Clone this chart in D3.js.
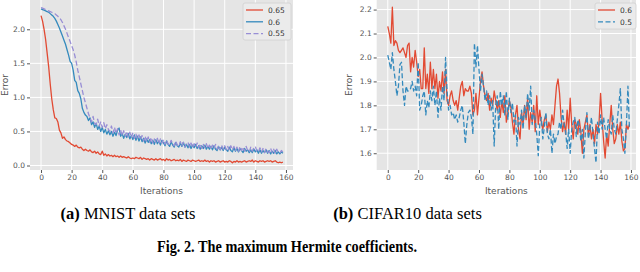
<!DOCTYPE html>
<meta charset="utf-8">
<title>Maximum Hermite coefficients</title>
<style>
html, body { margin: 0; padding: 0; background: #fff; overflow: hidden; }
.tick text { font: 7.5px "DejaVu Sans", sans-serif; fill: #555; }
.axlabel { font: 9px "DejaVu Sans", sans-serif; fill: #555; }
.leg text { font: 7.5px "DejaVu Sans", sans-serif; fill: #333; }
.cap { font-family: "Liberation Serif", "Times New Roman", serif; fill: #000; }
</style>
<svg width="640" height="272"></svg>
<script src="https://d3js.org/d3.v7.min.js"></script>
<script>

// ---- MNIST (left) ----
var mnistIter = d3.range(0, 159);
var mnist065 = [2.20,2.12,2.00,1.85,1.65,1.45,1.20,0.98,0.82,0.70,0.69,0.64,0.52,0.48,0.40,0.42,0.38,0.36,0.35,0.33,
  0.31,0.30,0.28,0.30,0.27,0.26,0.27,0.24,0.22,0.24,0.22,0.21,0.23,0.20,0.19,0.21,0.18,0.20,0.17,0.16,
  0.21,0.15,0.17,0.14,0.16,0.14,0.15,0.13,0.15,0.13,0.14,0.12,0.14,0.12,0.13,0.12,0.11,0.13,0.11,0.10,
  0.11,0.10,0.12,0.11,0.10,0.12,0.09,0.11,0.10,0.09,0.10,0.08,0.10,0.09,0.08,0.10,0.08,0.09,0.10,0.08,
  0.09,0.07,0.10,0.08,0.09,0.07,0.08,0.09,0.07,0.08,0.07,0.09,0.06,0.08,0.07,0.06,0.08,0.07,0.06,0.08,
  0.07,0.06,0.07,0.08,0.06,0.07,0.06,0.08,0.06,0.07,0.05,0.07,0.06,0.07,0.05,0.06,0.07,0.05,0.06,0.07,
  0.05,0.06,0.05,0.07,0.06,0.04,0.06,0.05,0.07,0.05,0.06,0.05,0.06,0.07,0.05,0.06,0.07,0.06,0.08,0.05,
  0.07,0.06,0.05,0.07,0.06,0.07,0.05,0.06,0.07,0.06,0.07,0.05,0.06,0.07,0.05,0.04,0.05,0.04,0.05];
var mnist06 = [2.30,2.29,2.28,2.27,2.26,2.25,2.23,2.21,2.19,2.16,2.12,2.07,2.02,1.96,1.90,1.84,1.78,1.70,1.62,1.53,
  1.50,1.40,1.25,1.22,1.10,1.06,0.98,0.84,0.78,0.74,0.72,0.66,0.70,0.60,0.64,0.56,0.62,0.53,0.58,0.50,
  0.56,0.48,0.53,0.46,0.51,0.45,0.50,0.43,0.49,0.44,0.52,0.55,0.43,0.47,0.40,0.46,0.41,0.47,0.39,0.44,
  0.38,0.45,0.37,0.43,0.36,0.42,0.35,0.40,0.33,0.39,0.34,0.38,0.32,0.37,0.31,0.38,0.32,0.36,0.30,0.37,
  0.33,0.29,0.36,0.31,0.28,0.35,0.30,0.27,0.34,0.29,0.27,0.33,0.28,0.34,0.27,0.31,0.26,0.31,0.25,0.30,
  0.26,0.31,0.25,0.29,0.24,0.29,0.25,0.30,0.24,0.28,0.24,0.28,0.23,0.29,0.24,0.22,0.28,0.23,0.27,0.22,
  0.27,0.23,0.21,0.27,0.22,0.20,0.26,0.21,0.25,0.20,0.25,0.22,0.19,0.25,0.21,0.23,0.19,0.23,0.19,0.24,
  0.20,0.23,0.18,0.23,0.18,0.22,0.19,0.23,0.18,0.22,0.17,0.21,0.18,0.22,0.17,0.20,0.17,0.20,0.18];
var mnist055 = [2.32,2.31,2.30,2.29,2.28,2.27,2.26,2.25,2.24,2.23,2.21,2.19,2.17,2.14,2.10,2.05,2.00,1.94,1.88,1.82,
  1.76,1.70,1.62,1.52,1.40,1.30,1.20,1.10,1.00,0.92,0.84,0.76,0.70,0.64,0.72,0.62,0.60,0.68,0.58,0.64,
  0.56,0.63,0.54,0.60,0.53,0.50,0.58,0.48,0.56,0.47,0.54,0.45,0.52,0.44,0.51,0.43,0.50,0.42,0.49,0.41,
  0.48,0.40,0.46,0.39,0.45,0.38,0.44,0.36,0.43,0.35,0.42,0.34,0.41,0.33,0.39,0.34,0.40,0.32,0.39,0.33,
  0.38,0.31,0.37,0.32,0.30,0.37,0.31,0.29,0.36,0.30,0.28,0.35,0.29,0.34,0.27,0.33,0.34,0.27,0.33,0.26,
  0.32,0.27,0.33,0.26,0.32,0.25,0.31,0.26,0.32,0.25,0.30,0.24,0.30,0.25,0.31,0.24,0.29,0.23,0.30,0.24,
  0.29,0.23,0.28,0.22,0.29,0.23,0.28,0.22,0.27,0.21,0.28,0.22,0.27,0.21,0.28,0.22,0.20,0.27,0.21,0.26,
  0.28,0.21,0.20,0.26,0.20,0.25,0.19,0.25,0.20,0.19,0.25,0.19,0.24,0.18,0.24,0.19,0.18,0.22,0.20];

// ---- CIFAR10 (right) ----
var cifarIter = d3.range(0, 160);
var cifar06 = [2.13,2.10,2.06,2.21,2.05,2.07,2.06,2.03,2.02,2.03,2.04,2.02,2.00,2.05,2.06,1.94,2.00,1.96,2.03,1.98,
  1.92,1.95,1.87,1.87,2.04,1.87,1.93,1.85,1.98,1.87,1.95,1.87,1.93,1.83,1.90,1.86,1.94,1.85,1.95,1.82,
  1.80,1.84,1.86,1.82,1.80,1.82,1.78,1.83,1.88,1.90,1.84,1.87,1.86,1.86,1.88,1.85,1.76,1.78,1.85,1.76,
  1.83,1.90,1.94,1.88,1.84,1.82,1.85,1.78,1.83,1.80,1.86,1.82,1.78,1.82,1.75,1.82,1.77,1.84,1.73,1.77,
  1.82,1.79,1.73,1.68,1.76,1.80,1.70,1.66,1.77,1.72,1.80,1.74,1.83,1.70,1.77,1.73,1.80,1.69,1.84,1.72,
  1.78,1.73,1.70,1.74,1.76,1.69,1.73,1.70,1.76,1.72,1.80,1.88,1.91,1.85,1.75,1.69,1.73,1.68,1.78,1.70,
  1.83,1.72,1.66,1.74,1.72,1.68,1.74,1.69,1.60,1.70,1.73,1.76,1.67,1.72,1.66,1.70,1.64,1.72,1.68,1.73,
  1.85,1.74,1.65,1.58,1.68,1.63,1.72,1.80,1.70,1.64,1.66,1.72,1.68,1.73,1.65,1.61,1.62,1.72,1.70,1.72];
var cifar05 = [2.01,1.98,1.95,2.02,1.95,1.90,1.84,1.88,1.97,1.98,1.86,1.80,1.88,1.86,1.86,1.87,1.90,1.86,1.88,1.84,
  1.98,1.78,1.80,1.84,1.86,1.76,1.82,1.79,1.86,1.82,1.88,1.80,1.86,1.75,1.83,1.78,1.88,1.82,2.00,1.86,
  1.78,1.80,1.76,1.77,1.74,1.76,1.73,1.75,1.78,1.80,1.73,1.64,1.72,1.77,1.78,1.75,1.68,2.06,1.96,2.05,
  1.95,1.86,1.93,1.88,1.82,1.86,1.80,1.84,1.78,1.82,1.63,1.80,1.84,1.70,1.86,1.80,1.84,1.76,1.86,1.74,
  1.83,1.77,1.81,1.73,1.76,1.63,1.75,1.72,1.78,1.70,1.80,1.75,1.85,1.78,1.88,1.72,1.78,1.74,1.68,1.59,
  1.72,1.75,1.66,1.71,1.77,1.68,1.66,1.70,1.60,1.68,1.64,1.67,1.68,1.73,1.70,1.78,1.72,1.69,1.62,1.70,
  1.60,1.70,1.73,1.75,1.67,1.74,1.72,1.65,1.70,1.58,1.69,1.77,1.66,1.70,1.75,1.68,1.62,1.56,1.73,1.68,
  1.76,1.70,1.75,1.70,1.66,1.74,1.70,1.68,1.76,1.70,1.68,1.74,1.80,1.87,1.70,1.66,1.60,1.72,1.88,1.70];

var xTicks = [0, 20, 40, 60, 80, 100, 120, 140, 160];
var mnistYTicks = [0.0, 0.5, 1.0, 1.5, 2.0];
var cifarYTicks = [1.6, 1.7, 1.8, 1.9, 2.0, 2.1, 2.2];

var red = "#E24A33", blue = "#348ABD", purple = "#988ED5";

var svg = d3.select("svg");

function panel(o) {
  var x = d3.scaleLinear().domain(o.xd).range([o.left, o.right]);
  var y = d3.scaleLinear().domain(o.yd).range([o.bottom, o.top]);
  var g = svg.append("g");

  g.append("rect")
    .attr("x", o.left).attr("y", o.top)
    .attr("width", o.right - o.left).attr("height", o.bottom - o.top)
    .attr("fill", "#E5E5E5");

  // grid
  g.selectAll(".vg").data(xTicks).enter().append("line")
    .attr("x1", d => x(d)).attr("x2", d => x(d))
    .attr("y1", o.top).attr("y2", o.bottom)
    .attr("stroke", "#fff").attr("stroke-width", 1);
  g.selectAll(".hg").data(o.yTicks).enter().append("line")
    .attr("x1", o.left).attr("x2", o.right)
    .attr("y1", d => y(d)).attr("y2", d => y(d))
    .attr("stroke", "#fff").attr("stroke-width", 1);

  // axes
  var ax = g.append("g").attr("transform", "translate(0," + o.bottom + ")")
    .call(d3.axisBottom(x).tickValues(xTicks).tickSize(3).tickPadding(2).tickFormat(d3.format("d")));
  var ay = g.append("g").attr("transform", "translate(" + o.left + ",0)")
    .call(d3.axisLeft(y).tickValues(o.yTicks).tickSize(3).tickPadding(2).tickFormat(d3.format(".1f")));
  [ax, ay].forEach(function(a) {
    a.select(".domain").remove();
    a.selectAll(".tick line").attr("stroke", "#555");
  });

  g.append("text").attr("class", "axlabel")
    .attr("x", (o.left + o.right) / 2).attr("y", 194)
    .attr("text-anchor", "middle").text("Iterations");
  g.append("text").attr("class", "axlabel")
    .attr("transform", "translate(" + o.ylabX + "," + ((o.top + o.bottom) / 2) + ") rotate(-90)")
    .attr("text-anchor", "middle").text("Error");

  o.series.forEach(function(s) {
    var line = d3.line().x((d, i) => x(o.iter[i])).y(d => y(d));
    g.append("path").datum(s.values)
      .attr("d", line)
      .attr("fill", "none")
      .attr("stroke", s.color)
      .attr("stroke-width", 1.3)
      .attr("stroke-linejoin", "round")
      .attr("stroke-dasharray", s.dash || null);
  });

  // legend
  var leg = g.append("g").attr("class", "leg");
  leg.append("rect")
    .attr("x", o.leg.x).attr("y", o.leg.y)
    .attr("width", o.leg.w).attr("height", o.leg.h).attr("rx", 2)
    .attr("fill", "#EBEBEB").attr("stroke", "#D0D0D0").attr("stroke-width", 0.8);
  o.series.forEach(function(s, i) {
    var yy = o.leg.y + 7 + i * 11.8;
    leg.append("line")
      .attr("x1", o.leg.x + 3).attr("x2", o.leg.x + 20)
      .attr("y1", yy).attr("y2", yy)
      .attr("stroke", s.color).attr("stroke-width", 1.3)
      .attr("stroke-dasharray", s.dash || null);
    leg.append("text")
      .attr("x", o.leg.x + 25).attr("y", yy + 2.7).text(s.name);
  });
}

panel({
  left: 30, right: 293, top: 0, bottom: 170,
  xd: [-7.2, 164.6], yd: [-0.066, 2.43],
  yTicks: mnistYTicks, iter: mnistIter, ylabX: 8,
  leg: {x: 243, y: 3, w: 48, h: 37},
  series: [
    {name: "0.65", values: mnist065, color: red},
    {name: "0.6", values: mnist06, color: blue},
    {name: "0.55", values: mnist055, color: purple, dash: "5,2.5"}
  ]
});

panel({
  left: 376.7, right: 636, top: 0, bottom: 170,
  xd: [-7.3, 163.3], yd: [1.53, 2.24],
  yTicks: cifarYTicks, iter: cifarIter, ylabX: 352,
  leg: {x: 595, y: 3, w: 41, h: 26},
  series: [
    {name: "0.6", values: cifar06, color: red},
    {name: "0.5", values: cifar05, color: blue, dash: "5,2.5"}
  ]
});

// captions
var capA = svg.append("text").attr("class", "cap").attr("x", 128).attr("y", 219)
  .attr("text-anchor", "middle").style("font-size", "16.5px");
capA.append("tspan").attr("font-weight", "bold").text("(a)");
capA.append("tspan").text(" MNIST data sets");

var capB = svg.append("text").attr("class", "cap").attr("x", 407.5).attr("y", 219)
  .attr("text-anchor", "middle").style("font-size", "16.5px");
capB.append("tspan").attr("font-weight", "bold").text("(b)");
capB.append("tspan").text(" CIFAR10 data sets");

svg.append("text").attr("class", "cap").attr("x", 157).attr("y", 252)
  .attr("textLength", 260).attr("lengthAdjust", "spacingAndGlyphs")
  .attr("font-weight", "bold").style("font-size", "16.5px")
  .text("Fig. 2. The maximum Hermite coefficients.");

</script>
